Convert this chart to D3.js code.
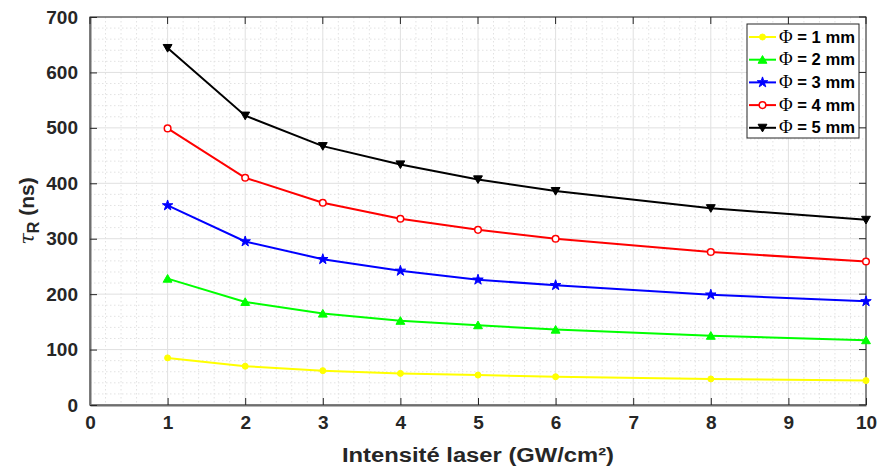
<!DOCTYPE html>
<html><head><meta charset="utf-8">
<script src="https://cdn.jsdelivr.net/npm/d3@7"></script>
<style>body{margin:0;background:#fff}svg{display:block;font-family:"Liberation Sans",Arial,sans-serif}</style>
</head><body><svg id="c" width="880" height="470"></svg>
<script>
const xVals = [1, 2, 3, 4, 5, 6, 8, 10];
const phi1 = [85, 70, 62, 57, 54, 51, 47, 44];
const phi2 = [228, 186, 165, 152, 144, 136, 125, 117];
const phi3 = [360, 295, 263, 242, 226, 216, 199, 187];
const phi4 = [499, 410, 365, 336, 316, 300, 276, 259];
const phi5 = [644, 522, 467, 434, 407, 386, 355, 334];
const seriesNames = ["1 mm", "2 mm", "3 mm", "4 mm", "5 mm"];
const xTicks = [0,1,2,3,4,5,6,7,8,9,10];
const yTicks = [0,100,200,300,400,500,600,700];

const colors = ["#ffff00", "#00ff00", "#0000ff", "#ff0000", "#000000"];
const markers = ["dot", "triUp", "star", "circle", "triDown"];
const allSeries = [phi1, phi2, phi3, phi4, phi5];

const svg = d3.select("#c");
const L = 90, R = 866, T = 17, B = 405;
const x = d3.scaleLinear().domain([0, 10]).range([L, R]);
const y = d3.scaleLinear().domain([0, 700]).range([B, T]);

// minor grid
const g = svg.append("g");
d3.range(0, 10.001, 0.2).forEach(v => {
  if (Math.abs(v - Math.round(v)) > 1e-6)
    g.append("line").attr("x1", x(v)).attr("x2", x(v)).attr("y1", T).attr("y2", B)
      .attr("stroke", "#e2e2e2").attr("stroke-width", 1).attr("stroke-dasharray", "1.5,2.5");
});
d3.range(0, 700.001, 20).forEach(v => {
  if (v % 100 !== 0)
    g.append("line").attr("x1", L).attr("x2", R).attr("y1", y(v)).attr("y2", y(v))
      .attr("stroke", "#e2e2e2").attr("stroke-width", 1).attr("stroke-dasharray", "1.5,2.5");
});
// major grid
xTicks.forEach(v => g.append("line").attr("x1", x(v)).attr("x2", x(v)).attr("y1", T).attr("y2", B)
  .attr("stroke", "#e0e0e0").attr("stroke-width", 1));
yTicks.forEach(v => g.append("line").attr("x1", L).attr("x2", R).attr("y1", y(v)).attr("y2", y(v))
  .attr("stroke", "#e0e0e0").attr("stroke-width", 1));

// box
svg.append("rect").attr("x", L).attr("y", T).attr("width", R - L).attr("height", B - T)
  .attr("fill", "none").attr("stroke", "#262626").attr("stroke-width", 1);

// axes
const xAxis = d3.axisBottom(x).tickValues(xTicks).tickSizeInner(-7).tickSizeOuter(0).tickPadding(14);
const yAxis = d3.axisLeft(y).tickValues(yTicks).tickSizeInner(-7).tickSizeOuter(0).tickPadding(14);
const gx = svg.append("g").attr("transform", `translate(0,${B})`).call(xAxis);
const gy = svg.append("g").attr("transform", `translate(${L},0)`).call(yAxis);
[gx, gy].forEach(a => {
  a.select(".domain").attr("stroke", "#6e6e6e").attr("stroke-width", 2);
  a.selectAll(".tick line").attr("stroke", "#262626").attr("stroke-width", 1);
  a.selectAll(".tick text").attr("fill", "#262626").attr("font-size", 19).attr("font-weight", "bold")
    .attr("font-family", "'Liberation Sans', Arial, sans-serif");
});
gx.selectAll(".tick text").attr("dy", "0.55em");
gy.selectAll(".tick text").attr("dx", "2");
// top/right ticks
xTicks.forEach(v => svg.append("line").attr("x1", x(v)).attr("x2", x(v)).attr("y1", T).attr("y2", T + 7).attr("stroke", "#262626"));
yTicks.forEach(v => svg.append("line").attr("x1", R).attr("x2", R - 7).attr("y1", y(v)).attr("y2", y(v)).attr("stroke", "#262626"));

// marker drawing
function drawMarker(sel, type, color, cx, cy) {
  if (type === "dot") {
    sel.append("circle").attr("cx", cx).attr("cy", cy).attr("r", 3).attr("fill", color).attr("stroke", color);
  } else if (type === "circle") {
    sel.append("circle").attr("cx", cx).attr("cy", cy).attr("r", 3.3).attr("fill", "#fff").attr("stroke", color).attr("stroke-width", 1.5);
  } else if (type === "triUp") {
    sel.append("path").attr("d", d3.symbol(d3.symbolTriangle, 34)()).attr("transform", `translate(${cx},${cy + 1})`)
      .attr("fill", color).attr("stroke", color).attr("stroke-width", 1);
  } else if (type === "triDown") {
    sel.append("path").attr("d", d3.symbol(d3.symbolTriangle, 34)()).attr("transform", `translate(${cx},${cy - 1}) rotate(180)`)
      .attr("fill", color).attr("stroke", color).attr("stroke-width", 1);
  } else if (type === "star") {
    sel.append("path").attr("d", d3.symbol(d3.symbolStar, 34)()).attr("transform", `translate(${cx},${cy})`)
      .attr("fill", color).attr("stroke", color).attr("stroke-width", 1);
  }
}

const line = d3.line().x(d => x(d[0])).y(d => y(d[1]));
allSeries.forEach((vals, i) => {
  const pts = xVals.map((xv, j) => [xv, vals[j]]);
  svg.append("path").datum(pts).attr("d", line).attr("fill", "none")
    .attr("stroke", colors[i]).attr("stroke-width", 2);
  const mg = svg.append("g");
  pts.forEach(p => drawMarker(mg, markers[i], colors[i], x(p[0]), y(p[1])));
});

// legend
const lg = svg.append("g");
lg.append("rect").attr("x", 747).attr("y", 24).attr("width", 112).attr("height", 114)
  .attr("fill", "#fff").attr("stroke", "#262626").attr("stroke-width", 1);
seriesNames.forEach((name, i) => {
  const yy = 37 + i * 22.7;
  lg.append("line").attr("x1", 749).attr("x2", 776).attr("y1", yy).attr("y2", yy)
    .attr("stroke", colors[i]).attr("stroke-width", 2);
  drawMarker(lg, markers[i], colors[i], 762.5, yy);
  const t = lg.append("text").attr("x", 779).attr("y", yy + 5.5).attr("font-size", 16).attr("font-weight", "bold")
    .attr("fill", "#000").attr("textLength", 76).attr("lengthAdjust", "spacingAndGlyphs");
  t.append("tspan").attr("font-family", "'Liberation Serif', 'Times New Roman', serif").attr("font-weight", "normal").attr("font-size", 18).text("Φ");
  t.append("tspan").text(" = " + name);
});

// axis labels
svg.append("text").attr("x", 478).attr("y", 462).attr("text-anchor", "middle")
  .attr("font-size", 20).attr("font-weight", "bold").attr("fill", "#262626")
  .attr("textLength", 272).attr("lengthAdjust", "spacingAndGlyphs")
  .text("Intensité laser (GW/cm²)");
const yl = svg.append("text").attr("transform", "translate(34,211) rotate(-90)").attr("text-anchor", "middle")
  .attr("font-size", 21).attr("font-weight", "bold").attr("fill", "#262626");
yl.append("tspan").attr("font-style", "italic").attr("font-weight", "normal").attr("font-family", "'DejaVu Serif', serif").text("τ");
yl.append("tspan").attr("dy", 5).attr("font-size", 16).text("R");
yl.append("tspan").attr("dy", -5).text(" (ns)");
</script></body></html>
